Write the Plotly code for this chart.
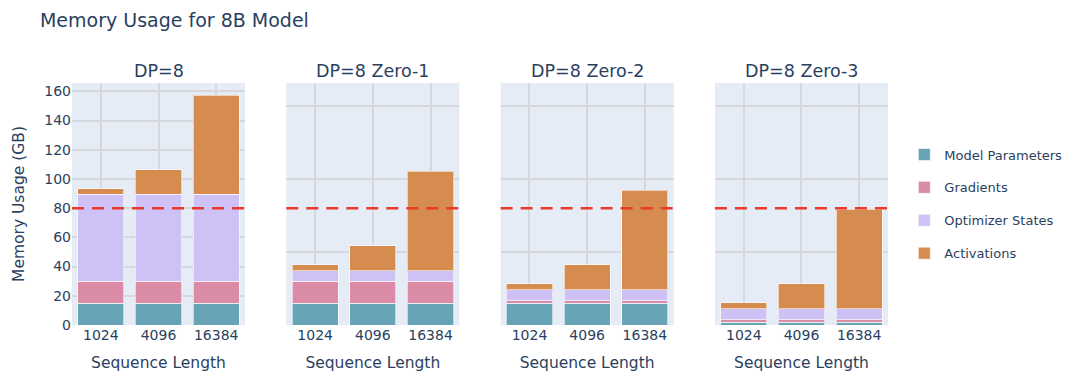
import plotly.graph_objects as go
from plotly.subplots import make_subplots

seq_lengths = ["1024", "4096", "16384"]
panels = ["DP=8", "DP=8 Zero-1", "DP=8 Zero-2", "DP=8 Zero-3"]
components = ["Model Parameters", "Gradients", "Optimizer States", "Activations"]
colors = ["#67a5b6", "#da8ca7", "#cdc1f5", "#d68c4f"]

model_params = [14.9, 14.9, 14.9, 1.86]
gradients = [14.9, 14.9, 1.86, 1.86]
optimizer_states = [59.6, 7.45, 7.45, 7.45]
activations = [4.0, 17.0, 68.0]
gpu_limit = 80

FONT = "DejaVu Sans, Verdana, sans-serif"
GRID = "#d6d8dd"

fig = make_subplots(rows=1, cols=4, shared_yaxes=True, subplot_titles=panels,
                    horizontal_spacing=0.0506)

for i, panel in enumerate(panels):
    per_panel = [
        [model_params[i]] * 3,
        [gradients[i]] * 3,
        [optimizer_states[i]] * 3,
        activations,
    ]
    for j, comp in enumerate(components):
        fig.add_trace(go.Bar(
            x=seq_lengths, y=per_panel[j], name=comp,
            marker=dict(color=colors[j], line=dict(color="rgba(255,255,255,0.6)", width=1)),
            legendgroup=comp, showlegend=(i == 0)),
            row=1, col=i + 1)
    fig.add_hline(y=gpu_limit, line=dict(color="#e8392b", width=2.5, dash="12px,8px"),
                  row=1, col=i + 1)
    fig.update_xaxes(title_text="Sequence Length", type="category", row=1, col=i + 1,
                     tickfont=dict(size=14), title_font=dict(size=15.5), automargin=False,
                     showgrid=True, gridcolor=GRID, gridwidth=1.5)

fig.update_yaxes(tickfont=dict(size=14), automargin=False,
                 showgrid=True, gridcolor=GRID, gridwidth=1.5, zeroline=False)
fig.update_yaxes(title_text="Memory Usage (GB)", title_font=dict(size=15.5), dtick=20,
                 row=1, col=1)
for ann in fig.layout.annotations:
    ann.font = dict(size=17.5, family=FONT, color="#2a3f5f")

fig.update_layout(
    barmode="stack",
    width=1080, height=387,
    template="plotly",
    title=dict(text="Memory Usage for 8B Model", x=0.037, y=0.948, yanchor="middle",
               font=dict(size=19), automargin=False),
    margin=dict(l=72, r=192, t=83, b=62, autoexpand=False),
    legend=dict(traceorder="grouped", x=1.02, y=0.5, yanchor="middle",
                font=dict(size=13), tracegroupgap=13),
    font=dict(family=FONT),
)
fig.write_html("out.html", config={"displayModeBar": False},
               post_script="document.body.style.margin='0';")
